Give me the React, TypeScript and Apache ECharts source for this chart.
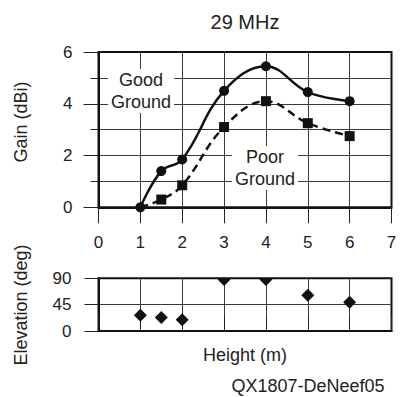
import React, { useEffect, useRef } from "react";
import * as echarts from "echarts";

const heights = [1, 1.5, 2, 3, 4, 5, 6];
const goodGain = [0, 1.4, 1.85, 4.5, 5.45, 4.45, 4.1];
const poorGain = [0, 0.3, 0.85, 3.1, 4.1, 3.25, 2.75];
const elevation = [27, 23, 19, 88, 88, 61, 49];
const gainTicks = [0, 2, 4, 6];
const elevTicks = [0, 45, 90];

const FONT = "'Liberation Sans', Arial, Helvetica, sans-serif";
const TXT = "#222";

export default function App() {
  const ref = useRef<HTMLDivElement>(null);
  useEffect(() => {
    if (!ref.current) return;
    const chart = echarts.init(ref.current, undefined, { renderer: "svg" });
    const gridLine = { color: "#3a3a3a", width: 1 };
    const option: any = {
      animation: false,
      backgroundColor: "#fff",
      textStyle: { fontFamily: FONT },
      grid: [
        { left: 98.5, right: 21.5, top: 52, height: 155.3, show: true, borderColor: "#111", borderWidth: 2, containLabel: false },
        { left: 98.5, right: 21.5, top: 278.3, height: 52.7, show: true, borderColor: "#111", borderWidth: 2, containLabel: false },
      ],
      xAxis: [
        {
          gridIndex: 0, type: "value", min: 0, max: 7, interval: 1, position: "bottom",
          axisLine: { show: true, lineStyle: { color: "#111", width: 2 } },
          axisTick: { show: true, length: 16, lineStyle: { color: "#222", width: 1 } },
          axisLabel: { show: true, margin: 27, fontSize: 17, color: TXT, fontFamily: FONT },
          splitLine: { show: true, showMinLine: false, showMaxLine: false, lineStyle: gridLine },
        },
        {
          gridIndex: 1, type: "value", min: 0, max: 7, interval: 1, position: "top",
          axisLine: { show: true, lineStyle: { color: "#111", width: 2 } },
          axisTick: { show: true, length: 15, lineStyle: { color: "#222", width: 1 } },
          axisLabel: { show: false },
          splitLine: { show: true, showMinLine: false, showMaxLine: false, lineStyle: gridLine },
        },
      ],
      yAxis: [
        {
          gridIndex: 0, type: "value", min: gainTicks[0], max: gainTicks[gainTicks.length - 1], interval: 2,
          axisLine: { show: true, lineStyle: { color: "#111", width: 2 } },
          axisTick: { show: true, length: 15, lineStyle: { color: "#222", width: 1 } },
          minorTick: { show: true, splitNumber: 2, length: 8, lineStyle: { color: "#222", width: 1 } },
          axisLabel: { show: true, margin: 26, fontSize: 17, color: TXT, fontFamily: FONT },
          splitLine: { show: true, showMinLine: false, showMaxLine: false, lineStyle: gridLine },
          minorSplitLine: { show: true, lineStyle: gridLine },
        },
        {
          gridIndex: 1, type: "value", min: elevTicks[0], max: elevTicks[elevTicks.length - 1], interval: 45,
          axisLine: { show: true, lineStyle: { color: "#111", width: 2 } },
          axisTick: { show: true, length: 14, lineStyle: { color: "#222", width: 1 } },
          axisLabel: { show: true, margin: 27, fontSize: 17, color: TXT, fontFamily: FONT },
          splitLine: { show: true, showMinLine: false, showMaxLine: false, lineStyle: gridLine },
        },
      ],
      series: [
        {
          name: "Good Ground", type: "line", xAxisIndex: 0, yAxisIndex: 0,
          data: heights.map((h, i) => [h, goodGain[i]]),
          smooth: 0.4, symbol: "circle", symbolSize: 10,
          itemStyle: { color: "#111" }, lineStyle: { color: "#111", width: 2.5 },
          z: 3,
        },
        {
          name: "Poor Ground", type: "line", xAxisIndex: 0, yAxisIndex: 0,
          data: heights.map((h, i) => (i === 0 ? { value: [h, poorGain[i]], symbol: "none" } : [h, poorGain[i]])),
          smooth: 0.4, symbol: "rect", symbolSize: 10,
          itemStyle: { color: "#111" }, lineStyle: { color: "#111", width: 2.5, type: [8, 5] },
          z: 2,
        },
        {
          name: "Elevation", type: "custom", xAxisIndex: 1, yAxisIndex: 1, clip: true,
          data: heights.map((h, i) => [h, elevation[i]]),
          renderItem: (params: any, api: any) => {
            const p = api.coord([api.value(0), api.value(1)]);
            const r = 6.5;
            return {
              type: "polygon",
              shape: { points: [[p[0], p[1] - r], [p[0] + r, p[1]], [p[0], p[1] + r], [p[0] - r, p[1]]] },
              style: { fill: "#111" },
            };
          },
          z: 3,
        },
      ],
      graphic: [
        { type: "text", x: 245, y: 22, style: { text: "29 MHz", fontSize: 20, fontFamily: FONT, fill: TXT, align: "center", verticalAlign: "middle" } },
        { type: "text", x: 21, y: 122, rotation: Math.PI / 2, style: { text: "Gain (dBi)", fontSize: 18, fontFamily: FONT, fill: TXT, align: "center", verticalAlign: "middle" } },
        { type: "text", x: 21, y: 305, rotation: Math.PI / 2, style: { text: "Elevation (deg)", fontSize: 18, fontFamily: FONT, fill: TXT, align: "center", verticalAlign: "middle" } },
        { type: "text", x: 245, y: 355, style: { text: "Height (m)", fontSize: 18, fontFamily: FONT, fill: TXT, align: "center", verticalAlign: "middle" } },
        { type: "text", x: 308, y: 386, style: { text: "QX1807-DeNeef05", fontSize: 18, fontFamily: FONT, fill: TXT, align: "center", verticalAlign: "middle" } },
        { type: "text", x: 141, y: 91, z: 10, style: { text: "Good\nGround", fontSize: 18, lineHeight: 22, fontFamily: FONT, fill: TXT, align: "center", verticalAlign: "middle", backgroundColor: "#fff", padding: [0, 3, 0, 3] } },
        { type: "text", x: 265, y: 168, z: 10, style: { text: "Poor\nGround", fontSize: 18, lineHeight: 22, fontFamily: FONT, fill: TXT, align: "center", verticalAlign: "middle", backgroundColor: "#fff", padding: [0, 3, 0, 3] } },
      ],
    };
    chart.setOption(option);
    return () => chart.dispose();
  }, []);
  return <div ref={ref} style={{ position: "fixed", left: 0, top: 0, width: 413, height: 397 }} />;
}
